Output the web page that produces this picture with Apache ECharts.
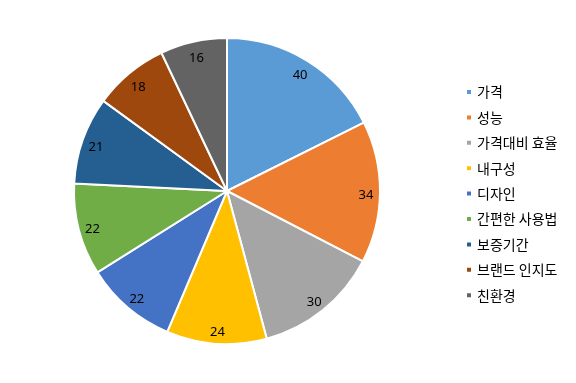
<!DOCTYPE html>
<html><head><meta charset="utf-8">
<script src="https://cdn.jsdelivr.net/npm/echarts@6/dist/echarts.min.js"></script>
<style>html,body{margin:0;padding:0;background:#fff}#c{width:576px;height:383px}</style>
</head><body><div id="c"></div>
<script>
const categories = ['가격','성능','가격대비 효율','내구성','디자인','간편한 사용법','보증기간','브랜드 인지도','친환경'];
const values = [40,34,30,24,22,22,21,18,16];
const colors = ['#5B9BD5','#ED7D31','#A5A5A5','#FFC000','#4472C4','#70AD47','#255E91','#9E480E','#636363'];
const data = categories.map((n,i)=>({name:n,value:values[i],itemStyle:{color:colors[i]}}));
const chart = echarts.init(document.getElementById('c'));
chart.setOption({
  animation:false,
  textStyle:{fontFamily:'"Noto Sans CJK KR", sans-serif'},
  legend:{orient:'vertical',left:460,top:80,padding:5,itemWidth:6,itemHeight:6,itemGap:11.4,icon:'rect',
    textStyle:{fontSize:14,lineHeight:14,color:'#000',fontFamily:'"Noto Sans CJK KR", sans-serif'},data:categories},
  series:[
    {type:'pie',center:[227,191],radius:[0,153],startAngle:90,clockwise:true,
     itemStyle:{borderColor:'#fff',borderWidth:2},label:{show:false},labelLine:{show:false},data:data},
    {type:'pie',center:[227,191],radius:[118,154],startAngle:90,clockwise:true,silent:true,
     itemStyle:{color:'transparent',borderWidth:0},labelLine:{show:false},
     label:{show:true,position:'inside',formatter:'{c}',fontSize:13,offset:[0,3],color:'#000',fontFamily:'"Noto Sans", sans-serif'},
     data:categories.map((n,i)=>({name:n,value:values[i]})),legendHoverLink:false}
  ]
});
</script></body></html>
